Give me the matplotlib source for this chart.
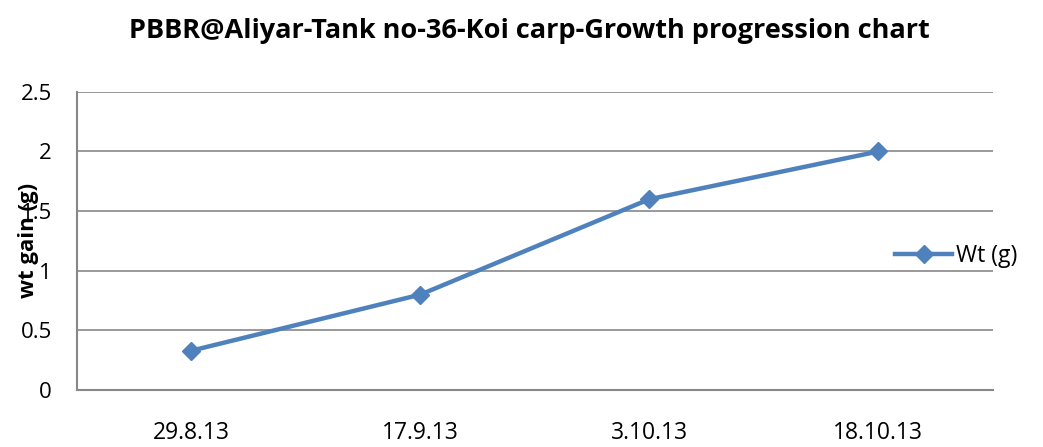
import matplotlib
matplotlib.use("Agg")
import matplotlib.pyplot as plt
from matplotlib.lines import Line2D

categories = ["29.8.13", "17.9.13", "3.10.13", "18.10.13"]
values = [0.33, 0.8, 1.6, 2.0]
yticks = [0, 0.5, 1, 1.5, 2, 2.5]
ytick_labels = ["0", "0.5", "1", "1.5", "2", "2.5"]

plt.rcParams['font.family'] = ['Open Sans', 'DejaVu Sans']

fig = plt.figure(figsize=(10.43, 4.47), dpi=100)
ax = fig.add_axes([0.0738, 0.1275, 0.878, 0.667])

color = "#4F81BD"
x = list(range(len(categories)))
ax.plot(x, values, color=color, linewidth=3.2, marker="D", markersize=9,
        markerfacecolor=color, markeredgecolor=color, label="Wt (g)", zorder=3)

ax.set_xlim(-0.5, len(categories) - 0.5)
ax.set_ylim(0, 2.5)
ax.set_yticks(yticks)
ax.set_yticklabels(ytick_labels, fontsize=16)
ax.set_xticks(x)
ax.set_xticklabels(categories, fontsize=16.5)
ax.tick_params(axis='both', length=0)
ax.tick_params(axis='x', pad=22)
ax.tick_params(axis='y', pad=18)
ax.grid(axis='y', color="#888888", linewidth=1.2)
ax.set_axisbelow(True)
for s in ['top', 'right']:
    ax.spines[s].set_visible(False)
for s in ['left', 'bottom']:
    ax.spines[s].set_color("#888888")
    ax.spines[s].set_linewidth(1.5)

fig.text(0.027, 0.462, "wt gain (g)", rotation=90, fontsize=16, fontweight='bold',
         ha='center', va='center')
fig.text(0.508, 0.93, "PBBR@Aliyar-Tank no-36-Koi carp-Growth progression chart",
         fontsize=19.5, fontweight='bold', ha='center', va='center')

handle = Line2D([0], [0], color=color, linewidth=3.2, marker="D", markersize=9)
fig.legend([handle], ["Wt (g)"], loc='center left', bbox_to_anchor=(0.858, 0.427),
           frameon=False, fontsize=16.5, handlelength=2.5, handletextpad=0.15,
           borderaxespad=0, borderpad=0)

fig.savefig("out.png", dpi=100)
